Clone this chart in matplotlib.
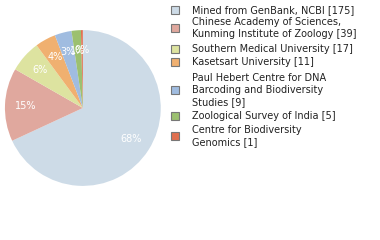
import math
import matplotlib.pyplot as plt
from matplotlib.patches import Rectangle

labels = ['Mined from GenBank, NCBI [175]',
          'Chinese Academy of Sciences,\nKunming Institute of Zoology [39]',
          'Southern Medical University [17]',
          'Kasetsart University [11]',
          'Paul Hebert Centre for DNA\nBarcoding and Biodiversity\nStudies [9]',
          'Zoological Survey of India [5]',
          'Centre for Biodiversity\nGenomics [1]']
counts = [175, 39, 17, 11, 9, 5, 1]
colors = ['#cddbe7', '#e0a89e', '#dde3a0', '#f0b070', '#a0bce0', '#9cc070', '#e07050']

fig = plt.figure(figsize=(3.8, 2.4), dpi=100)
ax = fig.add_axes([0.013, 0.225, 0.41, 0.65])
wedges, texts, autotexts = ax.pie(counts, colors=colors, startangle=90, counterclock=False,
                                  autopct=lambda p: '%d%%' % math.floor(p),
                                  pctdistance=0.74,
                                  textprops={'color': 'white', 'fontsize': 7})
ax.set_xlim(-1, 1)
ax.set_ylim(-1, 1)
ax.set_aspect('equal')

# legend drawn by hand, y = row centres in pixels from top
rows_y = [10, 28, 49, 62, 90, 116, 136]
for lab, c, y in zip(labels, colors, rows_y):
    yf = 1 - y / 240
    fig.patches.append(Rectangle((171 / 380, yf - 4 / 240), 8 / 380, 8 / 240,
                                 transform=fig.transFigure, facecolor=c,
                                 edgecolor='#777777', linewidth=0.8))
    fig.text(192 / 380, yf, lab, fontsize=7, color='#222222', va='center',
             ha='left', linespacing=1.2)

plt.savefig('out.png', dpi=100)
